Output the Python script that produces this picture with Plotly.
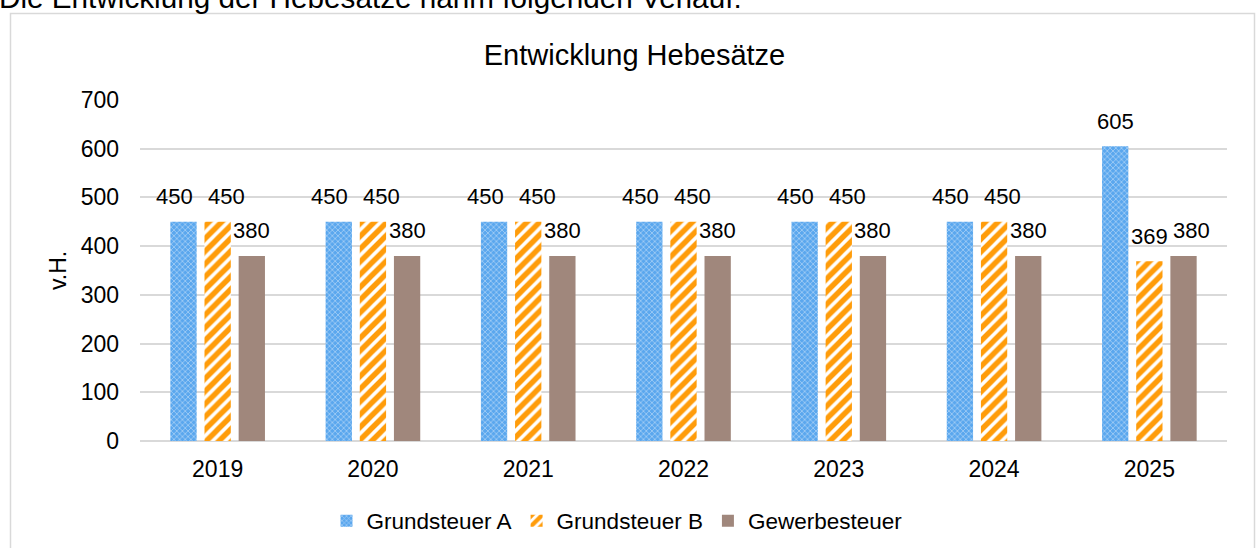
import plotly.graph_objects as go

years = ["2019", "2020", "2021", "2022", "2023", "2024", "2025"]
series_names = ["Grundsteuer A", "Grundsteuer B", "Gewerbesteuer"]
grundsteuer_a = [450, 450, 450, 450, 450, 450, 605]
grundsteuer_b = [450, 450, 450, 450, 450, 450, 369]
gewerbesteuer = [380, 380, 380, 380, 380, 380, 380]
series_values = [grundsteuer_a, grundsteuer_b, gewerbesteuer]

W, H = 1256, 548
ML, MR, MT, MB = 140, 29, 100, 107
PW, PH = W - ML - MR, H - MT - MB
YMAX = 700
BARGAP, BARGROUPGAP = 0.34, 0.23


def px_x(x):
    return (x - ML) / PW


def px_y(y):
    return (H - MB - y) / PH


font_family = "Liberation Sans, Arial, sans-serif"

markers = [
    dict(color="#5AA7EE", line=dict(width=0),
         pattern=dict(shape="x", fgcolor="#E2EFFC", bgcolor="#5AA7EE", size=4, solidity=0.4)),
    dict(color="#FF9C0A", line=dict(width=0),
         pattern=dict(shape="/", fgcolor="#FF9C0A", bgcolor="#FFFFFF", fgopacity=1,
                      size=9, solidity=0.6)),
    dict(color="#A0877C", line=dict(width=0)),
]

fig = go.Figure()
for name, vals, mk in zip(series_names, series_values, markers):
    fig.add_trace(go.Bar(name=name, x=years, y=vals, marker=mk, hoverinfo="x+y+name"))

# data labels (Excel-like, nudged apart where neighbours collide)
ppu = PH / YMAX
cat_px = PW / len(years)
slot = cat_px * (1 - BARGAP) / len(series_values)
for j, yr in enumerate(years):
    vals = [s[j] for s in series_values]
    offs = [0.0] * len(vals)

    def need(a, b):
        dy = abs(a - b) * ppu
        if dy < 3:
            return 52
        if dy < 30:
            return 42
        return 0

    n01 = need(vals[0], vals[1])
    if n01 > slot:
        d = n01 - slot
        offs[0] -= d / 2
        offs[1] += d / 2
    n12 = need(vals[1], vals[2])
    sep = slot + offs[2] - offs[1]
    if n12 > sep:
        offs[2] += n12 - sep
    for i, v in enumerate(vals):
        fig.add_annotation(x=j, y=v, xref="x", yref="y", text=str(v), showarrow=False,
                           xshift=(i - 1) * slot + offs[i], yshift=25, yanchor="middle",
                           font=dict(size=22, color="#000000", family=font_family))

fig.update_layout(
    width=W, height=H,
    margin=dict(l=ML, r=MR, t=MT, b=MB, autoexpand=False),
    paper_bgcolor="white", plot_bgcolor="white",
    font=dict(family=font_family, size=23, color="#000000"),
    barmode="group", bargap=BARGAP, bargroupgap=BARGROUPGAP,
    title=dict(text="Entwicklung Hebesätze", x=px_x(634.5), xanchor="center", xref="paper",
               y=1 - 55 / H, yanchor="middle", font=dict(size=29)),
    xaxis=dict(type="category", showgrid=False, showline=False, ticks="", tickfont=dict(size=23),
               ticklabelstandoff=12),
    yaxis=dict(range=[0, YMAX], dtick=100, showgrid=True, gridcolor="#D9D9D9", gridwidth=1.5,
               zeroline=True, zerolinecolor="#D9D9D9", zerolinewidth=1.5, showline=False, ticks="",
               tickfont=dict(size=23), ticklabelstandoff=20),
    legend=dict(orientation="h", x=px_x(617), xanchor="center", y=px_y(521), yanchor="middle",
                font=dict(size=22.5), itemwidth=30, tracegroupgap=0),
    showlegend=True,
)

fig.add_annotation(text="v.H.", xref="paper", yref="paper", x=px_x(58), y=px_y(271),
                   textangle=-90, showarrow=False, xanchor="center", yanchor="middle",
                   font=dict(size=23, color="#000000"))

fig.add_shape(type="rect", xref="paper", yref="paper",
              x0=px_x(10.5), x1=px_x(1254.5), y0=px_y(560), y1=px_y(13.5),
              line=dict(color="#D9D9D9", width=1.5), fillcolor="rgba(0,0,0,0)", layer="below")

fig.add_annotation(text="Die Entwicklung der Hebesätze nahm folgenden Verlauf:",
                   xref="paper", yref="paper", x=px_x(-3), y=px_y(-3), xanchor="left", yanchor="middle",
                   showarrow=False, font=dict(size=29.7, color="#000000"))

fig.write_html("out.html", config={"displayModeBar": False},
               post_script="document.body.style.margin='0px';")
